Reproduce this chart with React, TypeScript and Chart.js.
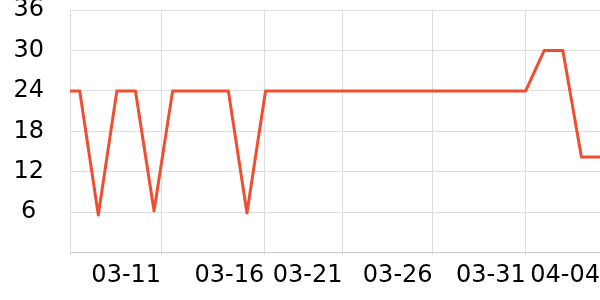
import React, { useEffect, useRef } from "react";
import { Chart, registerables } from "chart.js";

Chart.register(...registerables);

// daily samples (index 0 lies just left of the visible range)
const values: number[] = [
  24, 24, 5.6, 24, 24, 6.2, 24, 24, 24, 24, 5.9, 24, 24, 24, 24, 24, 24, 24,
  24, 24, 24, 24, 24, 24, 24, 24, 30, 30, 14.2, 14.2,
];

// x-axis tick positions (in sample-index units) and their labels
const xTickPositions: number[] = [0.477, 5.38, 10.93, 15.14, 19.99, 25.0, 29];
const xTickLabels: string[] = ["", "03-11", "03-16", "03-21", "03-26", "03-31", "04-04"];

const yMin = 0;
const yMax = 36;
const yStep = 6;

export default function App() {
  const ref = useRef<HTMLCanvasElement | null>(null);

  useEffect(() => {
    if (!ref.current) return;
    const chart = new Chart(ref.current, {
      type: "line",
      data: {
        datasets: [
          {
            data: values.map((v, i) => ({ x: i, y: v })),
            borderColor: "#f04e30",
            backgroundColor: "#f04e30",
            borderWidth: 3,
            pointRadius: 0,
            tension: 0,
            borderJoinStyle: "round",
            fill: false,
          },
        ],
      },
      options: {
        animation: false,
        responsive: true,
        maintainAspectRatio: false,
        layout: { padding: { top: 0, right: 0, bottom: 2.5, left: 0 } },
        plugins: { legend: { display: false }, tooltip: { enabled: false } },
        scales: {
          x: {
            type: "linear",
            min: xTickPositions[0],
            max: xTickPositions[xTickPositions.length - 1],
            afterBuildTicks: (scale: any) => {
              scale.ticks = xTickPositions.map((v) => ({ value: v }));
            },
            afterFit: (scale: any) => {
              scale.paddingLeft = 0;
              scale.paddingRight = 0;
            },
            ticks: {
              autoSkip: false,
              maxRotation: 0,
              align: "end",
              padding: 7,
              color: "#000",
              font: { family: "DejaVu Sans", size: 24 },
              callback: (_v: any, i: number) => xTickLabels[i],
            },
            grid: { color: "#dddddd", tickLength: 2, drawTicks: true },
            border: { color: "#c8c8c8" },
          },
          y: {
            min: yMin,
            max: yMax,
            afterFit: (scale: any) => {
              scale.width = 70;
              scale.paddingTop = 10;
              scale.paddingBottom = 0;
            },
            ticks: {
              stepSize: yStep,
              padding: 26,
              crossAlign: "center",
              color: "#000",
              font: { family: "DejaVu Sans", size: 24 },
              callback: (v: any) => (v === 0 ? "" : String(v)),
            },
            grid: { color: "#dddddd", drawTicks: false },
            border: { color: "#dddddd" },
          },
        },
      },
    });
    return () => chart.destroy();
  }, []);

  return (
    <div style={{ position: "fixed", left: 0, top: 0, width: 600, height: 300 }}>
      <canvas ref={ref} />
    </div>
  );
}
